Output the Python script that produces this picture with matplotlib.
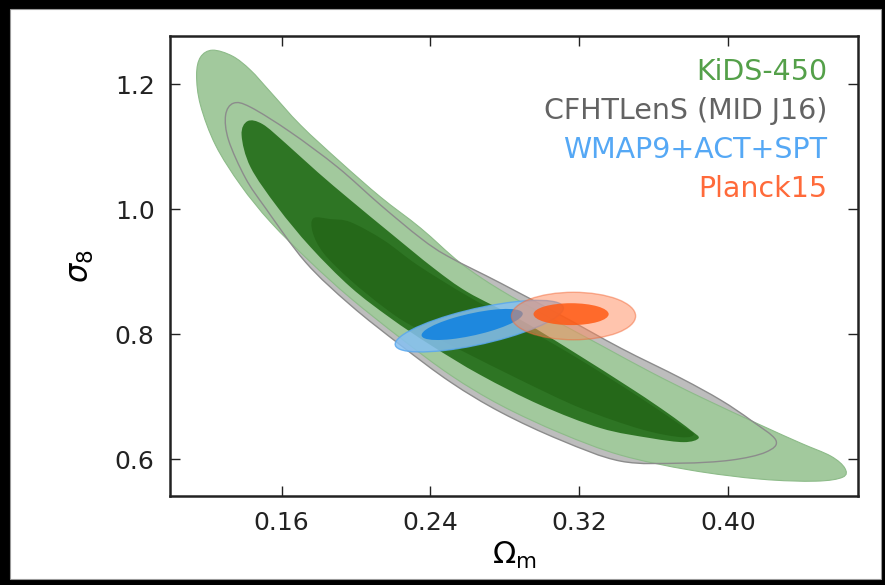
import numpy as np
import matplotlib
matplotlib.use("Agg")
import matplotlib.pyplot as plt
from matplotlib.path import Path
from matplotlib.patches import PathPatch, Ellipse, Rectangle

# Contour outlines (Omega_m, sigma_8)
kids95_om = [0.1229, 0.1336, 0.1433, 0.1541, 0.1702, 0.1917, 0.2133, 0.2348, 0.2563,
             0.2778, 0.3047, 0.3316, 0.3585, 0.3854, 0.4177, 0.4392, 0.4554, 0.4629,
             0.4618, 0.4473, 0.4177, 0.3800, 0.3424, 0.3101, 0.2778, 0.2509, 0.2240,
             0.1971, 0.1756, 0.1541, 0.1380, 0.1245, 0.1164, 0.1143, 0.1164]
kids95_s8 = [1.2544, 1.2448, 1.2224, 1.1872, 1.1344, 1.0752, 1.0192, 0.9696, 0.9136,
             0.8704, 0.8256, 0.7824, 0.7392, 0.6992, 0.6544, 0.6256, 0.6048, 0.5856,
             0.5712, 0.5648, 0.5680, 0.5824, 0.6064, 0.6416, 0.6864, 0.7344, 0.7936,
             0.8576, 0.9152, 0.9792, 1.0384, 1.1024, 1.1664, 1.2144, 1.2432]

kids68_om = [0.1417, 0.1498, 0.1621, 0.1794, 0.1971, 0.2186, 0.2418, 0.2601, 0.2870,
             0.3155, 0.3494, 0.3677, 0.3800, 0.3843, 0.3763, 0.3585, 0.3316, 0.2993,
             0.2671, 0.2402, 0.2186, 0.1971, 0.1756, 0.1578, 0.1433, 0.1385]
kids68_s8 = [1.1408, 1.1360, 1.1056, 1.0592, 1.0144, 0.9616, 0.9056, 0.8672, 0.8256,
             0.7744, 0.7104, 0.6736, 0.6464, 0.6336, 0.6272, 0.6336, 0.6496, 0.6864,
             0.7344, 0.7824, 0.8256, 0.8752, 0.9392, 1.0032, 1.0672, 1.1184]

cfht95_om = [0.1342, 0.1433, 0.1648, 0.1901, 0.2133, 0.2348, 0.2493, 0.2778, 0.3101,
             0.3424, 0.3747, 0.3962, 0.4123, 0.4258, 0.4204, 0.4016, 0.3747, 0.3424,
             0.3101, 0.2778, 0.2509, 0.2240, 0.1971, 0.1729, 0.1514, 0.1406, 0.1315,
             0.1299]
cfht95_s8 = [1.1696, 1.1632, 1.1232, 1.0672, 1.0064, 0.9536, 0.9248, 0.8816, 0.8304,
             0.7776, 0.7296, 0.6944, 0.6624, 0.6304, 0.6112, 0.5984, 0.5936, 0.5968,
             0.6304, 0.6752, 0.7232, 0.7824, 0.8464, 0.9152, 1.0016, 1.0496, 1.1104,
             1.1504]

cfht68_om = [0.1772, 0.1864, 0.1971, 0.2149, 0.2332, 0.2601, 0.2886, 0.3209, 0.3532,
             0.3747, 0.3817, 0.3747, 0.3532, 0.3209, 0.2886, 0.2563, 0.2294, 0.2149,
             0.1971, 0.1826, 0.1767]
cfht68_s8 = [0.9856, 0.9840, 0.9792, 0.9504, 0.9104, 0.8608, 0.8144, 0.7584, 0.6976,
             0.6544, 0.6400, 0.6352, 0.6480, 0.6816, 0.7264, 0.7744, 0.8144, 0.8432,
             0.8864, 0.9296, 0.9632]

# CMB ellipses: centre, width, height, angle (data units)
wmap_outer = (0.2663, 0.8128, 0.113, 0.0472, 41.3)
wmap_inner = (0.2625, 0.8155, 0.0678, 0.0290, 41.3)
planck_outer = (0.317, 0.829, 0.0668, 0.076, 0.0)
planck_inner = (0.3157, 0.832, 0.0404, 0.035, 0.0)

labels = ["KiDS-450", "CFHTLenS (MID J16)", "WMAP9+ACT+SPT", "Planck15"]
label_colors = ["#54a049", "#636363", "#55a8f5", "#ff6a3a"]

xticks = [0.16, 0.24, 0.32, 0.40]
yticks = [0.6, 0.8, 1.0, 1.2]


def smooth(xs, ys):
    # closed Catmull-Rom curve through the read points
    p = np.column_stack([xs, ys])
    n = len(p)
    verts = [p[0]]
    codes = [Path.MOVETO]
    for i in range(n):
        p0, p1, p2, p3 = p[i - 1], p[i], p[(i + 1) % n], p[(i + 2) % n]
        verts += [p1 + (p2 - p0) / 6, p2 - (p3 - p1) / 6, p2]
        codes += [Path.CURVE4] * 3
    verts.append(p[0])
    codes.append(Path.CLOSEPOLY)
    return Path(verts, codes)


fig = plt.figure(figsize=(8.85, 5.85), dpi=100, facecolor="black")
fig.patches.append(Rectangle((0.0113, 0.0103), 0.9842, 0.9743, transform=fig.transFigure,
                             facecolor="white", edgecolor="#999999", lw=0.8, zorder=-10))
ax = fig.add_axes([0.1921, 0.1521, 0.7774, 0.7863])

# CFHTLenS 95% underneath
ax.add_patch(PathPatch(smooth(cfht95_om, cfht95_s8), facecolor="#bdbdbd", edgecolor="none", zorder=1))
# KiDS
ax.add_patch(PathPatch(smooth(kids95_om, kids95_s8), facecolor="#a2c99d", edgecolor="#8dbb89",
                       lw=0.8, zorder=2))
ax.add_patch(PathPatch(smooth(kids68_om, kids68_s8), facecolor="#2e7524", edgecolor="none", zorder=3))
# CFHTLenS 68% seen through the KiDS 68% fill
ax.add_patch(PathPatch(smooth(cfht68_om, cfht68_s8), facecolor="#256819", edgecolor="none", zorder=4))
ax.add_patch(PathPatch(smooth(cfht95_om, cfht95_s8), facecolor="none", edgecolor="#8c8c8c",
                       lw=1.0, zorder=5))

# WMAP9+ACT+SPT
x, y, w, h, a = wmap_outer
ax.add_patch(Ellipse((x, y), w, h, angle=a, facecolor="#86c0f2", edgecolor="#5aa8ee",
                     lw=1.0, alpha=0.85, zorder=6))
x, y, w, h, a = wmap_inner
ax.add_patch(Ellipse((x, y), w, h, angle=a, facecolor="#1e88de", edgecolor="none", zorder=7))

# Planck15
x, y, w, h, a = planck_outer
ax.add_patch(Ellipse((x, y), w, h, angle=a, facecolor="#ff8a5c", edgecolor="#f26a3a",
                     lw=1.0, alpha=0.5, zorder=8))
x, y, w, h, a = planck_inner
ax.add_patch(Ellipse((x, y), w, h, angle=a, facecolor="#ff5a14", edgecolor="none",
                     alpha=0.85, zorder=9))

ax.set_xlim(0.10, 0.47)
ax.set_ylim(0.541, 1.277)
ax.set_xticks(xticks)
ax.set_xticklabels([f"{t:.2f}" for t in xticks])
ax.set_yticks(yticks)
ax.set_yticklabels([f"{t:.1f}" for t in yticks])
ax.tick_params(direction="in", length=7, width=1, top=True, right=True,
               labelsize=18, pad=11, colors="#222222")
for s in ax.spines.values():
    s.set_linewidth(1.8)
    s.set_color("#222222")

ax.set_xlabel(r"$\Omega_{\rm m}$", fontsize=22)
ax.set_ylabel(r"$\sigma_8$", fontsize=22)
ax.xaxis.set_label_coords(0.5, -0.095)
ax.yaxis.set_label_coords(-0.107, 0.5)

for i, (lab, col) in enumerate(zip(labels, label_colors)):
    ax.text(0.955, 0.9217 - 0.0848 * i, lab, color=col, fontsize=20.5,
            ha="right", va="center", transform=ax.transAxes, zorder=10)

fig.savefig("out.png", dpi=100, facecolor=fig.get_facecolor())
